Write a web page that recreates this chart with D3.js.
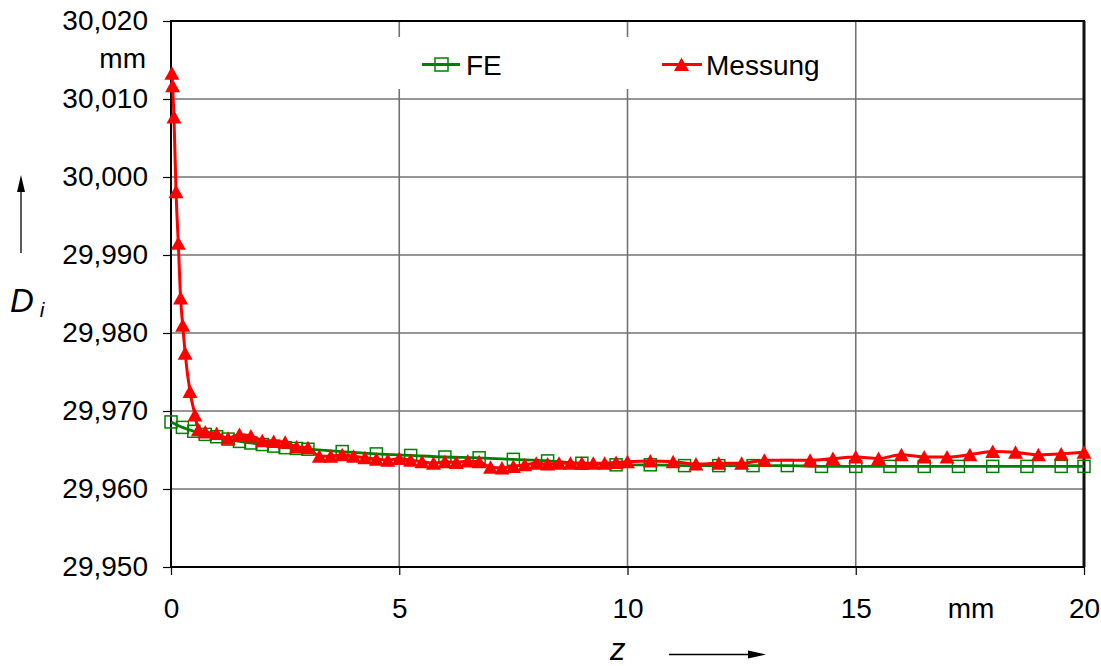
<!DOCTYPE html>
<html>
<head>
<meta charset="utf-8">
<script src="https://cdn.jsdelivr.net/npm/d3@7"></script>
<style>
  body { margin: 0; background: #fff; }
  svg { display: block; }
  text { font-family: "Liberation Sans", Arial, sans-serif; fill: #000; }
</style>
</head>
<body>
<div id="chart"></div>
<script>
// data
var feZ = [0, 0.25, 0.5, 0.75, 1, 1.25, 1.5, 1.75, 2, 2.25, 2.5, 2.75, 3,
    3.75, 4.5, 5.25, 6, 6.75, 7.5, 8.25, 9, 9.75, 10.5, 11.25, 12, 12.75,
    13.5, 14.25, 15, 15.75, 16.5, 17.25, 18, 18.75, 19.5, 20];
var feD = [29.9686, 29.9679, 29.9674, 29.9670, 29.9667, 29.9664, 29.9661, 29.9659,
    29.9657, 29.9655, 29.9653, 29.9652, 29.9651,
    29.9648, 29.9645, 29.9643, 29.9641, 29.9640, 29.9638, 29.9636, 29.9633, 29.9631,
    29.9631, 29.9630, 29.9630, 29.9630, 29.9630, 29.9629, 29.9629, 29.9629,
    29.9629, 29.9629, 29.9629, 29.9629, 29.9629, 29.9629];

var messZ = [0.02, 0.035, 0.065, 0.11, 0.16, 0.21, 0.256, 0.31, 0.416, 0.525,
    0.6, 0.75, 1, 1.25, 1.5, 1.75, 2, 2.25, 2.5, 2.75, 3, 3.25, 3.5, 3.75, 4,
    4.25, 4.5, 4.75, 5, 5.25, 5.5, 5.75, 6, 6.25, 6.5, 6.75, 7, 7.25, 7.5,
    7.75, 8, 8.25, 8.5, 8.75, 9, 9.25, 9.5, 9.75, 10,
    10.5, 11, 11.5, 12, 12.5, 13, 14, 14.5, 15, 15.5, 16, 16.5, 17, 17.5,
    18, 18.5, 19, 19.5, 20];
var messD = [30.0133, 30.0117, 30.0077, 29.9981, 29.9915, 29.9845, 29.9810, 29.9774, 29.9725, 29.9695,
    29.9676, 29.9673, 29.9671, 29.9665, 29.9670, 29.9668, 29.9662, 29.9661, 29.9660, 29.9654,
    29.9653, 29.9642, 29.9642, 29.9644, 29.9642, 29.9640, 29.9638, 29.9637, 29.9639,
    29.9637, 29.9635, 29.9633, 29.9635, 29.9634, 29.9636, 29.9635, 29.9628, 29.9627, 29.9629,
    29.9631, 29.9633, 29.9632, 29.9633, 29.9633, 29.9633, 29.9633, 29.9633, 29.9634, 29.9635,
    29.9636, 29.9635, 29.9632, 29.9633, 29.9633, 29.9637, 29.9637, 29.9639, 29.9641, 29.9639,
    29.9644, 29.9641, 29.9641, 29.9644, 29.9648, 29.9647, 29.9644, 29.9645, 29.9647];

var xTicks = [0, 5, 10, 15, 20];
var yTicks = [29.95, 29.96, 29.97, 29.98, 29.99, 30.00, 30.01, 30.02];
var seriesNames = ["FE", "Messung"];

var W = 1101, H = 666;
var plotL = 171, plotR = 1084, plotT = 21, plotB = 567;

var svg = d3.select("#chart").append("svg")
    .attr("width", W)
    .attr("height", H);

var x = d3.scaleLinear().domain([0, 20]).range([plotL, plotR]);
var y = d3.scaleLinear().domain([29.95, 30.02]).range([plotB, plotT]);

var de = d3.formatLocale({decimal: ",", thousands: ".", grouping: [3], currency: ["", " €"]});
var fmtY = de.format(".3f");

// grid
svg.append("g").selectAll("line")
    .data(yTicks.slice(1, -1))
    .enter().append("line")
    .attr("x1", plotL).attr("x2", plotR)
    .attr("y1", function(d) { return y(d); })
    .attr("y2", function(d) { return y(d); })
    .style("stroke", "#737373")
    .style("stroke-width", 1.6);

svg.append("g").selectAll("line")
    .data(xTicks.slice(1, -1))
    .enter().append("line")
    .attr("y1", plotT).attr("y2", plotB)
    .attr("x1", function(d) { return x(d); })
    .attr("x2", function(d) { return x(d); })
    .style("stroke", "#737373")
    .style("stroke-width", 1.6);

// legend background hides the grid behind it
svg.append("rect")
    .attr("x", 392).attr("y", 37)
    .attr("width", 450).attr("height", 52)
    .style("fill", "#fff");

// axes
var yAxis = svg.append("g")
    .attr("transform", "translate(" + plotL + ",0)")
    .call(d3.axisLeft(y).tickValues(yTicks).tickFormat(fmtY).tickSize(8).tickPadding(15).tickSizeOuter(0));
var xAxis = svg.append("g")
    .attr("transform", "translate(0," + plotB + ")")
    .call(d3.axisBottom(x).tickValues(xTicks).tickFormat(d3.format("d")).tickSize(8).tickPadding(23).tickSizeOuter(0));

[yAxis, xAxis].forEach(function(a) {
    a.select(".domain").remove();
    a.selectAll("line").style("stroke", "#000").style("stroke-width", 1.2);
    a.selectAll("text").style("font-size", "28px").style("font-family", "Liberation Sans, Arial, sans-serif");
});

// border
svg.append("rect")
    .attr("x", plotL).attr("y", plotT)
    .attr("width", plotR - plotL).attr("height", plotB - plotT)
    .style("fill", "none")
    .style("stroke", "#000")
    .style("stroke-width", 2);
svg.append("line")
    .attr("x1", plotR).attr("x2", plotR).attr("y1", plotT).attr("y2", plotB)
    .style("stroke", "#111").style("stroke-width", 3);

// units and axis titles
svg.append("text").attr("x", 146).attr("y", 68).attr("text-anchor", "end")
    .style("font-size", "28px").text("mm");
svg.append("text").attr("x", 971).attr("y", 618).attr("text-anchor", "middle")
    .style("font-size", "28px").text("mm");

var dl = svg.append("text").attr("x", 10).attr("y", 312)
    .style("font-size", "33px").style("font-style", "italic");
dl.append("tspan").text("D");
dl.append("tspan").attr("dx", 6).attr("dy", 5).style("font-size", "21px").text("i");

svg.append("text").attr("x", 610).attr("y", 660)
    .style("font-size", "31px").style("font-style", "italic").text("z");

// arrows
svg.append("line").attr("x1", 21).attr("x2", 21).attr("y1", 253).attr("y2", 188)
    .style("stroke", "#000").style("stroke-width", 1.3);
svg.append("path").attr("d", "M21,175 L17,192 L25,192 Z").style("fill", "#000");
svg.append("line").attr("x1", 669).attr("x2", 752).attr("y1", 654.5).attr("y2", 654.5)
    .style("stroke", "#000").style("stroke-width", 1.3);
svg.append("path").attr("d", "M766,654.5 L748,650.5 L748,658.5 Z").style("fill", "#000");

var fe = feZ.map(function(z, i) { return [z, feD[i]]; });
var mess = messZ.map(function(z, i) { return [z, messD[i]]; });

var line = d3.line()
    .x(function(d) { return x(d[0]); })
    .y(function(d) { return y(d[1]); })
    .curve(d3.curveMonotoneX);

var green = "#008000", red = "#ff0000";
var tri = "M0,-7 L7.5,6.5 L-7.5,6.5 Z";

// FE
svg.append("path").datum(fe)
    .attr("d", line)
    .style("fill", "none").style("stroke", green).style("stroke-width", 2.8);
svg.append("g").selectAll("rect")
    .data(fe).enter().append("rect")
    .attr("x", function(d) { return x(d[0]) - 6; })
    .attr("y", function(d) { return y(d[1]) - 6; })
    .attr("width", 12).attr("height", 12)
    .style("fill", "none").style("stroke", green).style("stroke-width", 1.5);

// Messung
svg.append("path").datum(mess)
    .attr("d", line)
    .style("fill", "none").style("stroke", red).style("stroke-width", 3);
svg.append("g").selectAll("path")
    .data(mess).enter().append("path")
    .attr("d", tri)
    .attr("transform", function(d) { return "translate(" + x(d[0]) + "," + y(d[1]) + ")"; })
    .style("fill", red);

// legend
var lg = svg.append("g");
lg.append("line").attr("x1", 422).attr("x2", 460).attr("y1", 64.5).attr("y2", 64.5)
    .style("stroke", green).style("stroke-width", 2.8);
lg.append("rect").attr("x", 435).attr("y", 58).attr("width", 13).attr("height", 13)
    .style("fill", "none").style("stroke", green).style("stroke-width", 1.5);
lg.append("text").attr("x", 466).attr("y", 75).style("font-size", "28px").text(seriesNames[0]);

lg.append("line").attr("x1", 662).attr("x2", 702).attr("y1", 64.5).attr("y2", 64.5)
    .style("stroke", red).style("stroke-width", 3);
lg.append("path").attr("d", tri).attr("transform", "translate(681.5,64.5)").style("fill", red);
lg.append("text").attr("x", 706).attr("y", 75).style("font-size", "28px").text(seriesNames[1]);
</script>
</body>
</html>
